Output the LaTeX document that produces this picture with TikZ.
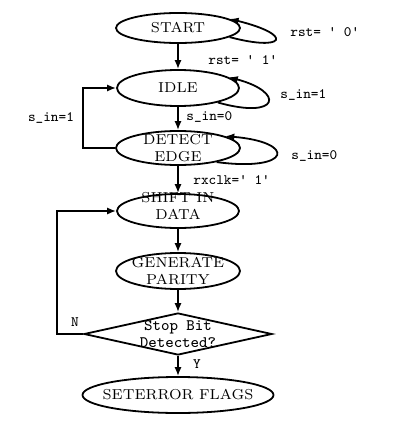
\documentclass[tikz,border=0pt]{standalone}
\usepackage{tikz}
\usetikzlibrary{arrows.meta, shapes.geometric}

\tikzset{
    state/.style={draw, ellipse, line width=0.9pt, inner sep=0pt},
    decision/.style={draw, diamond, line width=0.9pt, inner sep=0pt},
    statetext/.style={align=center, inner sep=0pt, font=\fontsize{7.2}{8.5}\selectfont},
    cond/.style={inner sep=0pt, font=\ttfamily\fontsize{7.2}{8.5}\selectfont},
    arr/.style={-{Latex[length=4.5pt,width=3.6pt]}, line width=0.9pt},
}

\begin{document}
\begin{tikzpicture}[x=0.5pt, y=-0.5pt]
    \useasboundingbox (0,0) rectangle (409,423);

    % states
    \node[state, minimum width=62pt, minimum height=15pt] (start) at (178,28) {};
    \node[state, minimum width=61pt, minimum height=18pt] (idle) at (178,88) {};
    \node[state, minimum width=62pt, minimum height=17pt] (detect) at (178,148) {};
    \node[state, minimum width=61pt, minimum height=17pt] (shift) at (178,211) {};
    \node[state, minimum width=62pt, minimum height=18pt] (gen) at (178,271) {};
    \node[decision, minimum width=94pt, minimum height=21pt] (stop) at (178,334) {};
    \node[state, minimum width=95.5pt, minimum height=18pt] (err) at (178,395) {};

    \node[statetext] (starttxt) at (start) {START};
    \node[statetext] (idletxt) at (idle) {IDLE};
    \node[statetext] (detecttxt) at (detect) {DETECT\\EDGE};
    \node[statetext] (shifttxt) at (178,206) {SHIFT IN\\DATA};
    \node[statetext] (gentxt) at (gen) {GENERATE\\PARITY};
    \node[statetext, font=\ttfamily\fontsize{8}{8.5}\selectfont] (stoptxt) at (stop) {Stop Bit\\Detected?};
    \node[statetext] (errtxt) at (err) {SETERROR FLAGS};

    % transitions
    \draw[arr] (start) -- (idle);
    \draw[arr] (idle) -- (detect);
    \draw[arr] (detect) -- (shift);
    \draw[arr] (shift) -- (gen);
    \draw[arr] (gen) -- (stop);
    \draw[arr] (stop) -- (err);

    \draw[arr] (start.-10) .. controls (285,52) and (295,35) .. (start.10);
    \draw[arr] (idle.-20) .. controls (280,120) and (285,92) .. (idle.12);
    \draw[arr] (detect.-20) .. controls (292,172) and (297,142) .. (detect.14);

    \coordinate (back1) at (83,148);
    \coordinate (back2) at (57,334);
    \draw[arr] (detect.west) -- (back1) |- (idle.west);
    \draw[arr] (stop.west) -- (back2) |- (shift.west);

    % conditions
    \node[cond, anchor=west] (rst0) at (290,32) {rst= ' 0'};
    \node[cond, anchor=west] (rst1) at (208,60) {rst= ' 1'};
    \node[cond, anchor=west] (sin1a) at (280,95) {s\_in=1};
    \node[cond, anchor=west] (sin0a) at (186,117) {s\_in=0};
    \node[cond] (sin1b) at (51,118) {s\_in=1};
    \node[cond, anchor=west] (sin0b) at (291,156) {s\_in=0};
    \node[cond, anchor=west] (rxclk) at (193,180) {rxclk=' 1'};
    \node[cond] (no) at (75,322) {N};
    \node[cond] (yes) at (197,364) {Y};
\end{tikzpicture}
\end{document}
